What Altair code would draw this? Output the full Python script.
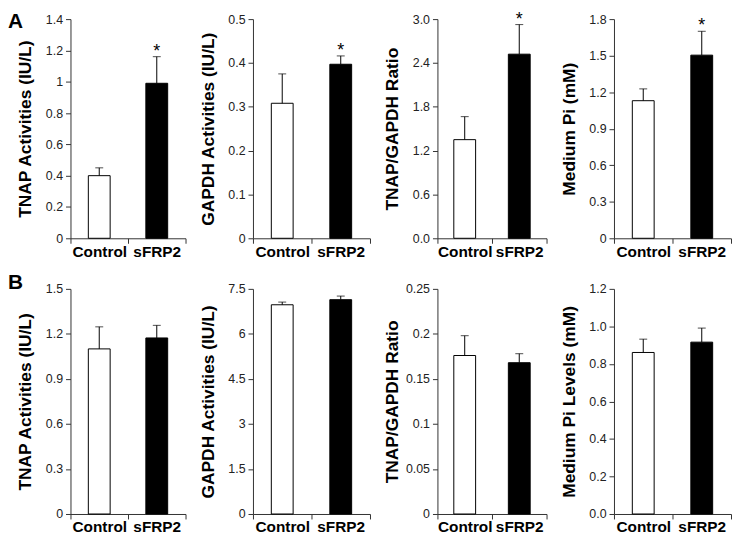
import altair as alt
import pandas as pd

FONT = "Liberation Sans"

groups = ["Control", "sFRP2"]
row_letters = ["A", "B"]

y_titles = [
    "TNAP Activities (IU/L)", "GAPDH Activities (IU/L)", "TNAP/GAPDH Ratio", "Medium Pi (mM)",
    "TNAP Activities (IU/L)", "GAPDH Activities (IU/L)", "TNAP/GAPDH Ratio", "Medium Pi Levels (mM)",
]
y_max = [1.4, 0.5, 3.0, 1.8, 1.5, 7.5, 0.25, 1.2]
y_ticks = [
    [0, 0.2, 0.4, 0.6, 0.8, 1, 1.2, 1.4],
    [0, 0.1, 0.2, 0.3, 0.4, 0.5],
    [0, 0.6, 1.2, 1.8, 2.4, 3.0],
    [0, 0.3, 0.6, 0.9, 1.2, 1.5, 1.8],
    [0, 0.3, 0.6, 0.9, 1.2, 1.5],
    [0, 1.5, 3, 4.5, 6, 7.5],
    [0, 0.05, 0.1, 0.15, 0.2, 0.25],
    [0, 0.2, 0.4, 0.6, 0.8, 1.0, 1.2],
]
y_formats = [".6~g", ".6~g", ".1f", ".6~g", ".6~g", ".6~g", ".6~g", ".1f"]

control_mean = [0.40, 0.308, 1.35, 1.13, 1.10, 6.97, 0.176, 0.861]
control_err = [0.05, 0.067, 0.315, 0.097, 0.147, 0.09, 0.022, 0.071]
sfrp2_mean = [0.99, 0.397, 2.52, 1.504, 1.173, 7.14, 0.168, 0.916]
sfrp2_err = [0.17, 0.019, 0.405, 0.196, 0.084, 0.12, 0.010, 0.075]
significant = [True, True, True, True, False, False, False, False]

col_widths = [116, 118, 110, 118]
row_heights = [221, 227]


def panel(i):
    r, c = divmod(i, 4)
    means = [control_mean[i], sfrp2_mean[i]]
    errs = [control_err[i], sfrp2_err[i]]
    df = pd.DataFrame({
        "group": groups,
        "mean": means,
        "top": [m + e for m, e in zip(means, errs)],
        "star": ["", "*" if significant[i] else ""],
    })
    x = alt.X(
        "group:N", sort=groups, title=None,
        scale=alt.Scale(domain=groups, paddingInner=0, paddingOuter=0),
        axis=alt.Axis(
            labelAngle=0, tickBand="extent", tickSize=5, labelPadding=1,
            labelFont=FONT, labelFontSize=15.5, labelFontWeight="bold",
            labelColor="black", domainColor="#333", tickColor="#333",
            grid=False,
        ),
    )
    yaxis = alt.Axis(
        values=y_ticks[i], format=y_formats[i], grid=False,
        tickSize=5, labelPadding=3, labelFont=FONT, labelFontSize=12.5,
        labelColor="#222", domainColor="#333", tickColor="#333",
        titleFont=FONT, titleFontSize=17.5, titleFontWeight="bold",
        titleColor="black", titlePadding=6, minExtent=30, maxExtent=30,
    )
    yscale = alt.Scale(domain=[0, y_max[i]], nice=False, zero=True)

    def y(field):
        return alt.Y(field, type="quantitative", scale=yscale, axis=yaxis, title=y_titles[i])

    base = alt.Chart(df)
    bars = base.mark_bar(size=22, stroke="black", strokeWidth=1).encode(
        x=x, y=y("mean"),
        fill=alt.Fill("group:N", scale=alt.Scale(domain=groups, range=["white", "black"]), legend=None),
    )
    rule = base.mark_rule(color="black", strokeWidth=1).encode(x=x, y=y("mean"), y2="top:Q")
    cap = base.mark_tick(color="black", thickness=1, size=8).encode(x=x, y=y("top"))
    star = base.mark_text(font=FONT, fontSize=18, baseline="alphabetic", dy=0, color="black").encode(
        x=x, y=y("top"), text="star:N"
    )
    layers = [bars, rule, cap, star]
    if c == 0:
        letter = alt.Chart(pd.DataFrame({"letter": [row_letters[r]]})).mark_text(
            font=FONT, fontSize=21, fontWeight="bold", align="left", baseline="top", color="black"
        ).encode(x=alt.value(-63), y=alt.value(-8.5 if r == 0 else -17), text="letter:N")
        layers.append(letter)
    return alt.layer(*layers).properties(width=col_widths[c], height=row_heights[r])


chart = alt.concat(
    *[panel(i) for i in range(8)], columns=4,
    spacing={"row": 51, "column": 68}, bounds="flush",
).properties(padding=0).configure_view(stroke=None)

chart.save("out.html", embed_options={"renderer": "svg", "actions": False})
